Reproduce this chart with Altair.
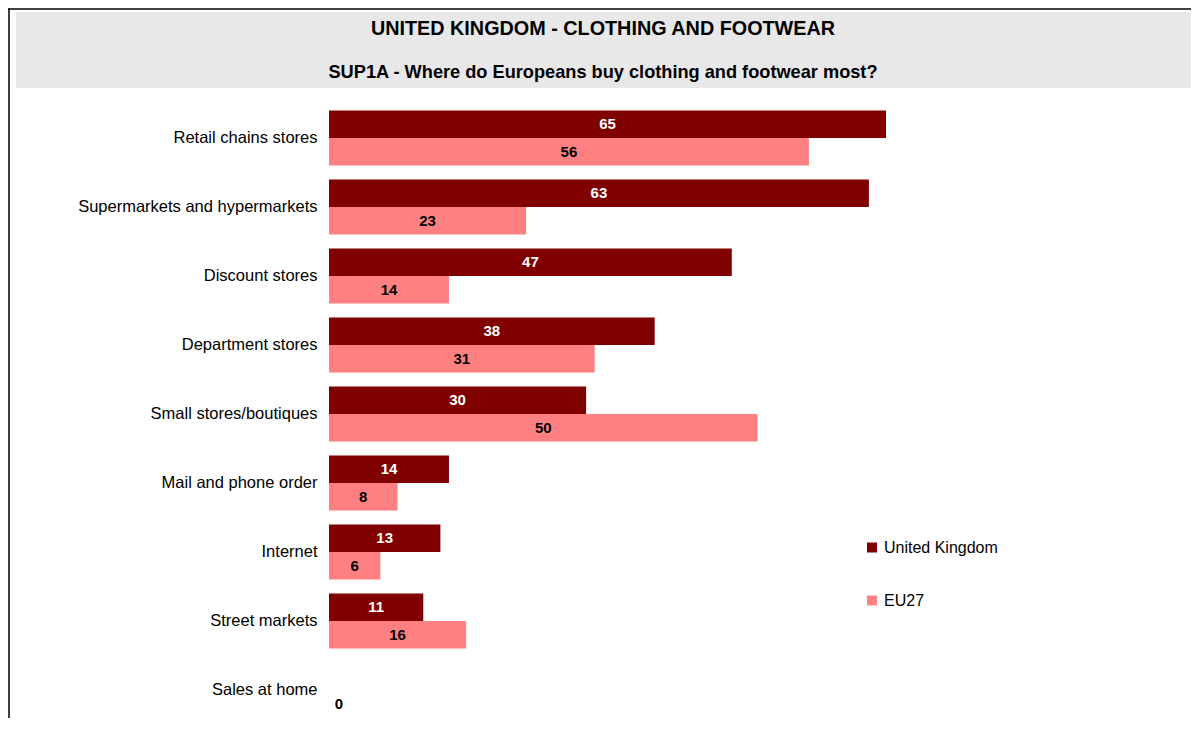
import altair as alt
import pandas as pd

categories = ["Retail chains stores", "Supermarkets and hypermarkets", "Discount stores",
              "Department stores", "Small stores/boutiques", "Mail and phone order",
              "Internet", "Street markets", "Sales at home"]
uk_values = [65, 63, 47, 38, 30, 14, 13, 11, None]
eu_values = [56, 23, 14, 31, 50, 8, 6, 16, 0]
series = ["United Kingdom", "EU27"]
colors = ["#800000", "#FF8080"]

title_text = "UNITED KINGDOM - CLOTHING AND FOOTWEAR"
subtitle_text = "SUP1A - Where do Europeans buy clothing and footwear most?"

rows = []
for c, u, e in zip(categories, uk_values, eu_values):
    rows.append({"category": c, "series": series[0], "value": u})
    rows.append({"category": c, "series": series[1], "value": e})
df = pd.DataFrame(rows)

FONT = "Liberation Sans"
W, H = 857, 607

yenc = alt.Y("category:N", sort=categories,
             scale=alt.Scale(paddingInner=14 / 69, paddingOuter=0),
             axis=alt.Axis(title=None, domain=False, ticks=False, labelFontSize=16.5,
                           labelFont=FONT, labelColor="#000000", labelPadding=12,
                           labelLimit=400))
yoff = alt.YOffset("series:N", sort=series,
                   scale=alt.Scale(paddingInner=0, paddingOuter=0))
xscale = alt.Scale(domain=[0, 100], nice=False)

bars = alt.Chart(df).mark_bar().encode(
    y=yenc,
    yOffset=yoff,
    x=alt.X("value:Q", scale=xscale, axis=None),
    color=alt.Color("series:N", sort=series,
                    scale=alt.Scale(domain=series, range=colors),
                    legend=alt.Legend(title=None, orient="none", legendX=535, legendY=429,
                                      symbolType="square", symbolSize=100,
                                      symbolStrokeWidth=0, labelFontSize=16,
                                      labelFont=FONT, labelColor="#000000",
                                      rowPadding=37, labelOffset=4)),
)

labels = alt.Chart(df).transform_filter(
    "isValid(datum.value)"
).transform_calculate(
    pos="max(datum.value / 2, 1.15)"
).mark_text(fontWeight="bold", fontSize=15, font=FONT, baseline="middle", align="center").encode(
    y=alt.Y("category:N", sort=categories),
    yOffset=alt.YOffset("series:N", sort=series),
    x=alt.X("pos:Q", scale=xscale),
    text=alt.Text("value:Q", format="d"),
    color=alt.condition(alt.datum.series == "United Kingdom", alt.value("#FFFFFF"), alt.value("#000000")),
)

one = pd.DataFrame({"k": [0]})
box = alt.Chart(one).mark_rect(color="#E8E8E8").encode(
    x=alt.value(-313), x2=alt.value(862), y=alt.value(-98.5), y2=alt.value(-22.5))
t1 = alt.Chart(one).mark_text(fontWeight="bold", fontSize=19.8, font=FONT, align="center",
                              baseline="middle", color="#000000").encode(
    x=alt.value(274), y=alt.value(-82), text=alt.value(title_text))
t2 = alt.Chart(one).mark_text(fontWeight="bold", fontSize=18.2, font=FONT, align="center",
                              baseline="middle", color="#000000").encode(
    x=alt.value(274), y=alt.value(-37.5), text=alt.value(subtitle_text))
frame_left = alt.Chart(one).mark_rule(color="#000000", strokeWidth=1.5).encode(
    x=alt.value(-320), y=alt.value(-102), y2=alt.value(H + 10))
frame_top = alt.Chart(one).mark_rule(color="#000000", strokeWidth=1.5).encode(
    x=alt.value(-321), x2=alt.value(870), y=alt.value(-101.5))

chart = alt.layer(box, frame_left, frame_top, t1, t2, bars, labels).properties(
    width=W, height=H,
    autosize=alt.AutoSizeParams(type="none"),
    padding={"left": 321, "top": 102.5, "right": 5, "bottom": 0},
).configure(font=FONT, view=alt.ViewConfig(stroke=None))

chart.save("out.html", embed_options={"renderer": "svg", "actions": False})
